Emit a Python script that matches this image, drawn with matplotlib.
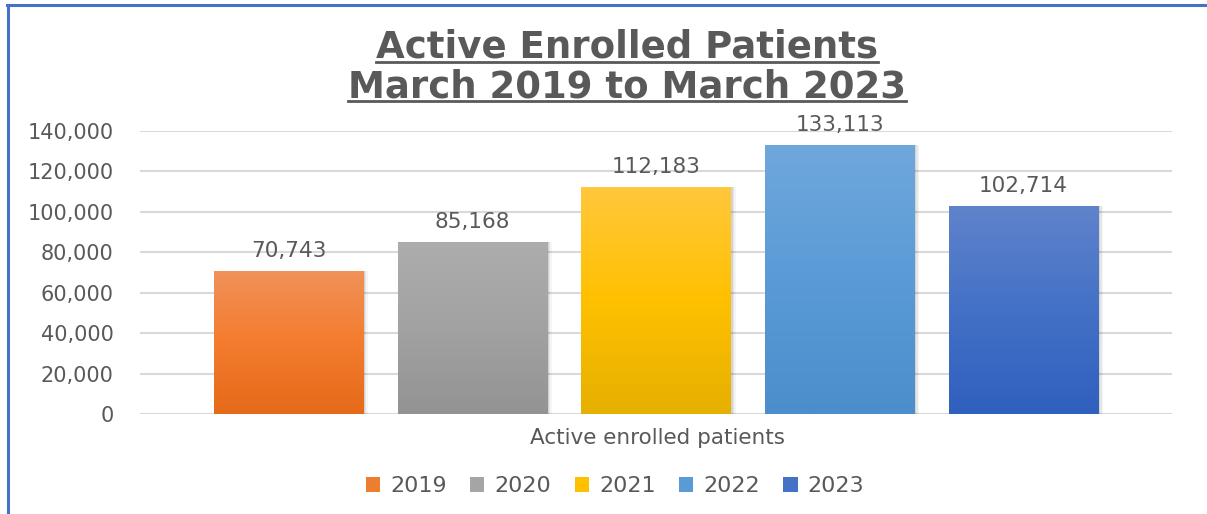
import matplotlib
matplotlib.use("Agg")
import matplotlib.pyplot as plt
import numpy as np
from matplotlib.patches import Patch, Rectangle
from matplotlib.lines import Line2D
from matplotlib.colors import LinearSegmentedColormap
from matplotlib.ticker import FuncFormatter

# ---- data ----
title_lines = ["Active Enrolled Patients", "March 2019 to March 2023"]
category = "Active enrolled patients"
years = ["2019", "2020", "2021", "2022", "2023"]
values = [70743, 85168, 112183, 133113, 102714]
yticks = [0, 20000, 40000, 60000, 80000, 100000, 120000, 140000]

# ---- styles ----
base_colors = ["#ED7D31", "#A5A5A5", "#FFC000", "#5B9BD5", "#4472C4"]
grad_top = ["#F1915A", "#ADADAD", "#FFC83C", "#70A7DD", "#6083CC"]
grad_mid = ["#F47C2E", "#A2A2A2", "#FFC000", "#5A9BD6", "#4371C6"]
grad_bot = ["#E56A19", "#939393", "#E6B000", "#4A8ECB", "#2F60BE"]
text_gray = "#595959"
grid_gray = "#D9D9D9"

W, H = 1207, 514
fig = plt.figure(figsize=(W / 100, H / 100), dpi=100)
fig.patch.set_facecolor("white")

def fx(px):
    return px / W

def fy(py):
    return 1 - py / H

ax_left, ax_right, ax_top, ax_bot = 140, 1172, 131, 414
ax = fig.add_axes([fx(ax_left), fy(ax_bot), fx(ax_right - ax_left), (ax_bot - ax_top) / H])
ax.set_facecolor("none")

step = 183.75
bw = 149 / step
x = np.arange(len(values))

ax.set_yticks(yticks)
ax.yaxis.set_major_formatter(FuncFormatter(lambda v, p: f"{int(v):,}"))
ax.tick_params(axis="y", length=0, pad=19, labelsize=15, labelcolor=text_gray)
for lab in ax.get_yticklabels():
    lab.set_fontfamily("DejaVu Sans")
ax.set_xticks([])
for s in ax.spines.values():
    s.set_visible(False)
ax.grid(axis="y", color=grid_gray, linewidth=1.5, zorder=0)
ax.set_axisbelow(True)

# shadows
for i, v in enumerate(values):
    for k, a in [(5, 0.04), (3.5, 0.06), (2, 0.08)]:
        sh = Rectangle((x[i] - bw / 2 + k / step, 0), bw, v, facecolor="black",
                       alpha=a, edgecolor="none", zorder=1.5)
        ax.add_patch(sh)

bars = ax.bar(x, values, width=bw, color=base_colors, edgecolor="none", zorder=2)

# gradient fill clipped to bars
for i, b in enumerate(bars):
    cmap = LinearSegmentedColormap.from_list(f"g{i}", [grad_bot[i], grad_mid[i], grad_top[i]])
    grad = np.linspace(0, 1, 256).reshape(-1, 1)
    x0, y0 = b.get_x(), b.get_y()
    im = ax.imshow(grad, cmap=cmap, aspect="auto", origin="lower",
                   extent=[x0, x0 + b.get_width(), y0, y0 + b.get_height()], zorder=2.5)
    im.set_clip_path(b)
ax.set_xlim(-0.808, len(values) - 1 + 0.808)
ax.set_ylim(0, 140000)

# value labels
for i, v in enumerate(values):
    ax.annotate(f"{v:,}", (x[i], v), xytext=(0, 14), textcoords="offset pixels",
                ha="center", va="baseline", fontsize=15.5, color=text_gray,
                family="DejaVu Sans", zorder=4)

# category label
fig.text(fx(657), fy(438), category, ha="center", va="center", fontsize=15.5,
         color=text_gray, family="DejaVu Sans")

# title with underline
title_texts = []
for line, base in zip(title_lines, [58, 97]):
    t = fig.text(fx(627), fy(base), line, ha="center", va="baseline", fontsize=26.7,
                 fontweight="bold", color=text_gray, family="DejaVu Sans")
    title_texts.append((t, base))

fig.canvas.draw()
r = fig.canvas.get_renderer()
for t, base in title_texts:
    bb = t.get_window_extent(r)
    fig.add_artist(Line2D([bb.x0 / W, bb.x1 / W], [fy(base + 4), fy(base + 4)],
                          transform=fig.transFigure, color=text_gray, linewidth=2))

# legend
handles = [Patch(facecolor=c, edgecolor="none") for c in base_colors]
leg = fig.legend(handles, years, loc="center", bbox_to_anchor=(fx(615), fy(486)),
                 ncol=5, frameon=False, fontsize=16, handlelength=0.65, handleheight=0.65,
                 handletextpad=0.45, columnspacing=1.05, labelcolor=text_gray)

# blue frame (top and left edges)
fig.add_artist(Line2D([fx(8), fx(8)], [fy(5), 0], transform=fig.transFigure,
                      color="#4472C4", linewidth=2.2))
fig.add_artist(Line2D([fx(7), 1], [fy(5), fy(5)], transform=fig.transFigure,
                      color="#4472C4", linewidth=2.2))

fig.savefig("out.png", dpi=100)
